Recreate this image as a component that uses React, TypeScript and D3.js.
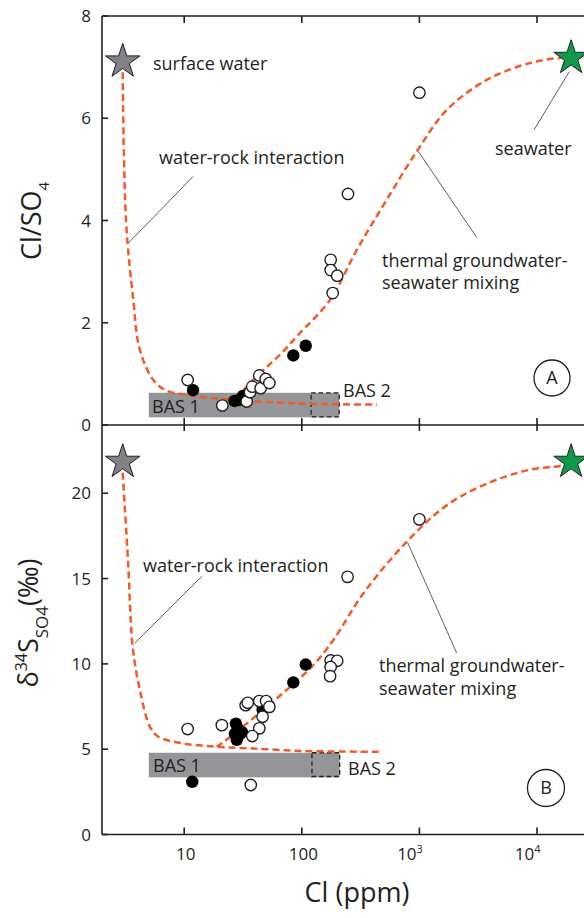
import React from "react";
import * as d3 from "d3";

// ---- Axis ticks -----------------------------------------------------------
const clTicks = [10, 100, 1000, 10000];
const clTickBase = ["10", "100", "10", "10"];
const clTickExp = ["", "", "3", "4"];
const ratioTicks = [0, 2, 4, 6, 8];
const deltaTicks = [0, 5, 10, 15, 20];

// ---- Panel A: Cl/SO4 vs Cl (ppm) -----------------------------------------
const ratioOpen: [number, number][] = [
  [10.7, 0.88], [21.1, 0.38], [34, 0.46], [36.3, 0.64], [37.9, 0.75],
  [43.5, 0.97], [44.7, 0.72], [49.3, 0.9], [53, 0.82],
  [176, 3.23], [176, 3.03], [200, 2.92], [183, 2.58], [247, 4.52], [1000, 6.5],
];
const ratioFilled: [number, number][] = [
  [11.9, 0.68], [26.8, 0.47], [29.3, 0.49], [31.6, 0.57], [84.7, 1.36], [108, 1.55],
];
const ratioWaterRock: [number, number][] = [
  [3.0, 6.9], [3.2, 4.0], [3.69, 2.45], [4.2, 1.47], [5.46, 0.88], [7.1, 0.67],
  [10.5, 0.59], [18.9, 0.52], [96.7, 0.42], [434, 0.4],
];
const ratioMixing: [number, number][] = [
  [27.5, 0.53], [44, 1.01], [65, 1.37], [93, 1.76], [174, 2.45], [293, 3.42],
  [525, 4.4], [968, 5.38], [1706, 6.16], [3733, 6.75], [8700, 7.08],
  [15700, 7.18], [19500, 7.18],
];
const ratioSurface: [number, number] = [3.0, 7.11];
const ratioSeawater: [number, number] = [19500, 7.18];
const ratioBas1 = { cl: [5, 208], v: [0.15, 0.63] };
const ratioBas2 = { cl: [120, 208], v: [0.16, 0.63] };

// ---- Panel B: d34S-SO4 vs Cl (ppm) ---------------------------------------
const deltaOpen: [number, number][] = [
  [10.7, 6.18], [20.9, 6.41], [36.8, 2.9], [33.3, 7.58], [34.7, 7.72],
  [43.5, 7.82], [49.7, 7.82], [53, 7.48], [46.4, 6.9], [43.5, 6.22],
  [37.9, 5.77], [176, 10.2], [200, 10.18], [176, 9.82], [174, 9.28],
  [245, 15.1], [1000, 18.47],
];
const deltaFilled: [number, number][] = [
  [11.7, 3.09], [27.5, 6.5], [28.5, 6.2], [27, 5.9], [29.5, 5.85], [28, 5.55],
  [31, 6.0], [46.4, 7.33], [84.7, 8.91], [108, 9.96],
];
const deltaWaterRock: [number, number][] = [
  [3.0, 21.2], [3.33, 16], [3.65, 11.0], [4.2, 8.46], [5.12, 6.31], [6.03, 5.73],
  [9.8, 5.34], [18.9, 5.14], [36.3, 5.05], [96.7, 4.9], [462, 4.85],
];
const deltaMixing: [number, number][] = [
  [18.9, 5.14], [20.5, 5.3], [27.9, 6.02], [61.2, 7.97], [125, 9.92],
  [185, 11.39], [333, 14.12], [776, 17.14], [1706, 19.29], [3733, 20.56],
  [8700, 21.38], [15700, 21.6], [19700, 21.75],
];
const deltaSurface: [number, number] = [3.0, 21.84];
const deltaSeawater: [number, number] = [19500, 21.84];
const deltaBas1 = { cl: [5, 210], v: [3.35, 4.79] };
const deltaBas2 = { cl: [122, 210], v: [3.4, 4.79] };

// ---- Style ----------------------------------------------------------------
const INK = "#231f20";
const ORANGE = "#f15a29";
const BOX = "#939598";
const FONT = "'Open Sans', 'Noto Sans', sans-serif";

const x = d3.scaleLog().domain([2, 10000]).range([102, 537]);
const yA = d3.scaleLinear().domain([0, 8]).range([425, 16]);
const yB = d3.scaleLinear().domain([0, 24]).range([834.5, 425]);
const RIGHT = 584;

const starPath = d3.symbol().type(d3.symbolStar).size(372)() as string;

type Scale = d3.ScaleLinear<number, number>;

function Panel(props: {
  y: Scale;
  open: [number, number][];
  filled: [number, number][];
  waterRock: [number, number][];
  mixing: [number, number][];
  surface: [number, number];
  seawater: [number, number];
  bas1: { cl: number[]; v: number[] };
  bas2: { cl: number[]; v: number[] };
}) {
  const { y } = props;
  const line = d3
    .line<[number, number]>()
    .x((d) => x(d[0]))
    .y((d) => y(d[1]))
    .curve(d3.curveCatmullRom.alpha(0.5));
  const rect = (b: { cl: number[]; v: number[] }) => ({
    x: x(b.cl[0]),
    y: y(b.v[1]),
    width: x(b.cl[1]) - x(b.cl[0]),
    height: y(b.v[0]) - y(b.v[1]),
  });
  const r1 = rect(props.bas1);
  const r2 = rect(props.bas2);
  return (
    <g>
      <rect {...r1} fill={BOX} />
      <rect {...r2} fill="none" stroke={INK} strokeWidth={1.3} strokeDasharray="4.5 3" />
      <path d={line(props.waterRock) || ""} fill="none" stroke={ORANGE} strokeWidth={2.5} strokeDasharray="7 4" />
      <path d={line(props.mixing) || ""} fill="none" stroke={ORANGE} strokeWidth={2.5} strokeDasharray="7 4" />
      {props.filled.map((d, i) => (
        <circle key={"f" + i} cx={x(d[0])} cy={y(d[1])} r={6.2} fill="#000" />
      ))}
      {props.open.map((d, i) => (
        <circle key={"o" + i} cx={x(d[0])} cy={y(d[1])} r={5.7} fill="#fff" stroke={INK} strokeWidth={1.4} />
      ))}
      <path d={starPath} transform={`translate(${x(props.surface[0])},${y(props.surface[1])})`} fill="#808285" stroke={INK} strokeWidth={1} />
      <path d={starPath} transform={`translate(${x(props.seawater[0])},${y(props.seawater[1])})`} fill="#0e9a48" stroke={INK} strokeWidth={1} />
    </g>
  );
}

function Leader(props: { y: Scale; from: [number, number]; to: [number, number] }) {
  const { y, from, to } = props;
  return <line x1={x(from[0])} y1={y(from[1])} x2={x(to[0])} y2={y(to[1])} stroke="#4d4d4f" strokeWidth={0.9} />;
}

export default function App() {
  const text = { fontFamily: FONT, fill: INK } as const;
  return (
    <svg width={584} height={918} style={{ position: "absolute", left: 0, top: 0, background: "#fff" }}>
      <rect width={584} height={918} fill="#fff" />

      <Panel y={yA} open={ratioOpen} filled={ratioFilled} waterRock={ratioWaterRock} mixing={ratioMixing}
        surface={ratioSurface} seawater={ratioSeawater} bas1={ratioBas1} bas2={ratioBas2} />
      <Panel y={yB} open={deltaOpen} filled={deltaFilled} waterRock={deltaWaterRock} mixing={deltaMixing}
        surface={deltaSurface} seawater={deltaSeawater} bas1={deltaBas1} bas2={deltaBas2} />

      {/* frame */}
      <g stroke={INK} strokeWidth={1.6} fill="none">
        <line x1={102} x2={RIGHT} y1={yA(8)} y2={yA(8)} />
        <line x1={102} x2={RIGHT} y1={yA(0)} y2={yA(0)} />
        <line x1={102} x2={RIGHT} y1={yB(0)} y2={yB(0)} />
        <line x1={102} x2={102} y1={yA(8)} y2={yB(0)} />
        {clTicks.map((t) => (
          <g key={t}>
            <line x1={x(t)} x2={x(t)} y1={yA(8)} y2={yA(8) + 7} />
            <line x1={x(t)} x2={x(t)} y1={yA(0) - 7} y2={yA(0) + 6} />
            <line x1={x(t)} x2={x(t)} y1={yB(0)} y2={yB(0) - 7} />
          </g>
        ))}
        {ratioTicks.map((t) => (
          <line key={"ra" + t} x1={102} x2={108} y1={yA(t)} y2={yA(t)} />
        ))}
        {deltaTicks.map((t) => (
          <line key={"dt" + t} x1={102} x2={108} y1={yB(t)} y2={yB(t)} />
        ))}
      </g>

      {/* tick labels */}
      <g {...text} fontSize={17}>
        {ratioTicks.map((t) => (
          <text key={"rl" + t} x={91} y={yA(t)} dy="0.36em" textAnchor="end">{t}</text>
        ))}
        {deltaTicks.map((t) => (
          <text key={"dl" + t} x={91} y={yB(t)} dy="0.36em" textAnchor="end">{t}</text>
        ))}
        {clTicks.map((t, i) =>
          clTickExp[i] ? (
            <text key={"xl" + t} x={x(t) + 3.5} y={860} textAnchor="end">
              {clTickBase[i]}
              <tspan fontSize={11} dy={-7}>{clTickExp[i]}</tspan>
            </text>
          ) : (
            <text key={"xl" + t} x={x(t) + 1.5} y={860} textAnchor="middle">{clTickBase[i]}</text>
          )
        )}
      </g>

      {/* axis titles */}
      <text {...text} fontSize={27} textAnchor="middle" transform="translate(41,221) rotate(-90)">
        Cl/SO<tspan fontSize={15} dy={8}>4</tspan>
      </text>
      <text {...text} fontSize={27} textAnchor="middle" transform="translate(38,623) rotate(-90)">
        δ<tspan fontSize={16} dy={-11}>34</tspan>
        <tspan dy={11}>S</tspan>
        <tspan fontSize={17} dy={10}>SO4</tspan>
        <tspan dy={-10}>(‰)</tspan>
      </text>
      <text {...text} fontSize={27} x={357} y={902} textAnchor="middle">Cl (ppm)</text>

      {/* annotations, panel A */}
      <Leader y={yA} from={[11.9, 4.86]} to={[3.35, 3.56]} />
      <Leader y={yA} from={[9420, 5.77]} to={[18800, 6.91]} />
      <Leader y={yA} from={[980, 5.35]} to={[3070, 3.67]} />
      <g {...text} fontSize={18}>
        <text x={153} y={70}>surface water</text>
        <text x={159} y={164}>water-rock interaction</text>
        <text x={495} y={155}>seawater</text>
        <text x={382} y={267}>thermal groundwater-</text>
        <text x={382} y={289}>seawater mixing</text>
        <text x={152} y={413}>BAS 1</text>
        <text x={343} y={397}>BAS 2</text>
      </g>
      <circle cx={552} cy={378} r={18} fill="none" stroke={INK} strokeWidth={1.3} />
      <text {...text} fontSize={18} x={552} y={378} dy="0.36em" textAnchor="middle">A</text>

      {/* annotations, panel B */}
      <Leader y={yB} from={[14.1, 15.13]} to={[3.82, 11.23]} />
      <Leader y={yB} from={[795, 17.11]} to={[2075, 10.64]} />
      <g {...text} fontSize={18}>
        <text x={143} y={572}>water-rock interaction</text>
        <text x={379} y={672}>thermal groundwater-</text>
        <text x={379} y={695}>seawater mixing</text>
        <text x={153} y={772}>BAS 1</text>
        <text x={348} y={775}>BAS 2</text>
      </g>
      <circle cx={546} cy={788} r={18.5} fill="none" stroke={INK} strokeWidth={1.3} />
      <text {...text} fontSize={18} x={546} y={788} dy="0.36em" textAnchor="middle">B</text>
    </svg>
  );
}
